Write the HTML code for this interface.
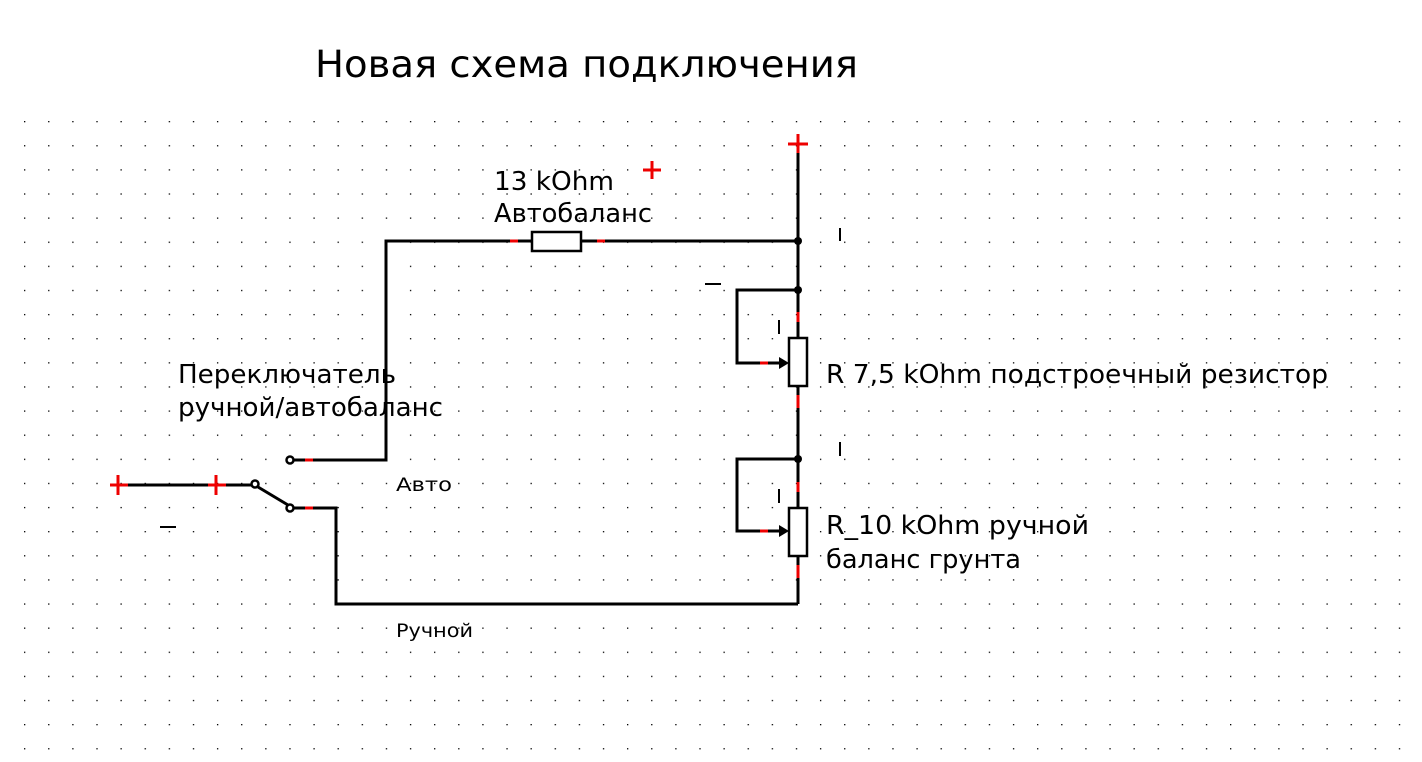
<!DOCTYPE html>
<html><head><meta charset="utf-8"><style>html,body{margin:0;padding:0;background:#fff;}svg{display:block}</style></head>
<body>
<svg width="1422" height="762" xmlns="http://www.w3.org/2000/svg" font-family="'DejaVu Sans','Liberation Sans',sans-serif">
<defs>
<pattern id="g" x="24" y="121" width="24.12" height="24.12" patternUnits="userSpaceOnUse">
<rect x="0" y="0" width="1.3" height="1.3" fill="#000"/>
</pattern>
</defs>
<rect width="1422" height="762" fill="#fff"/>
<rect x="23" y="120" width="1399" height="642" fill="url(#g)"/>
<text x="315" y="77" font-size="37" textLength="543" lengthAdjust="spacingAndGlyphs">Новая схема подключения</text>

<g stroke="#000" stroke-width="3" fill="none">
<line x1="798" y1="144" x2="798" y2="604"/>
<polyline points="290,460 386,460 386,241 532,241"/>
<line x1="581" y1="241" x2="798" y2="241"/>
<polyline points="798,290 737,290 737,363 780,363"/>
<polyline points="798,459 737,459 737,531 780,531"/>
<polyline points="290,508 336,508 336,604 798,604"/>
<line x1="118" y1="485" x2="252" y2="485"/>
<line x1="258" y1="487" x2="288" y2="505"/>
</g>
<g fill="#fff" stroke="#000" stroke-width="2.5">
<rect x="532" y="232" width="49" height="19"/>
<rect x="789" y="338" width="18" height="48"/>
<rect x="789" y="508" width="18" height="48"/>
<circle cx="255" cy="484" r="3.5"/>
<circle cx="290" cy="460" r="3.5"/>
<circle cx="290" cy="508" r="3.5"/>
</g>
<g fill="#000">
<polygon points="789,363 779,357 779,369"/>
<polygon points="789,531 779,525 779,537"/>
<circle cx="798" cy="241" r="4"/>
<circle cx="798" cy="290" r="4"/>
<circle cx="798" cy="459" r="4"/>
</g>
<g stroke="#e00" stroke-width="3">
<line x1="510" y1="241" x2="518" y2="241"/>
<line x1="597" y1="241" x2="605" y2="241"/>
<line x1="798" y1="312" x2="798" y2="322"/>
<line x1="798" y1="395" x2="798" y2="408"/>
<line x1="798" y1="482" x2="798" y2="492"/>
<line x1="798" y1="565" x2="798" y2="578"/>
<line x1="760" y1="363" x2="768" y2="363"/>
<line x1="760" y1="531" x2="768" y2="531"/>
<line x1="305" y1="460" x2="313" y2="460"/>
<line x1="305" y1="508" x2="313" y2="508"/>
</g>
<g stroke-width="3">
<line x1="110" y1="485" x2="128" y2="485" stroke="#e00"/><line x1="118" y1="475" x2="118" y2="495" stroke="#e00"/>
<line x1="208" y1="485" x2="226" y2="485" stroke="#e00"/><line x1="216" y1="475" x2="216" y2="495" stroke="#e00"/>
<line x1="643" y1="170" x2="661" y2="170" stroke="#e00"/><line x1="652" y1="161" x2="652" y2="179" stroke="#e00"/>
<line x1="788" y1="144" x2="808" y2="144" stroke="#e00"/><line x1="798" y1="134" x2="798" y2="153" stroke="#e00"/>
</g>
<g stroke="#000" stroke-width="2">
<line x1="160" y1="527" x2="176" y2="527"/>
<line x1="705" y1="284" x2="721" y2="284"/>
<line x1="840" y1="228" x2="840" y2="241"/>
<line x1="779" y1="320" x2="779" y2="334"/>
<line x1="840" y1="442" x2="840" y2="456"/>
<line x1="779" y1="489" x2="779" y2="503"/>
</g>
<g font-size="26" fill="#000">
<text x="494" y="190" textLength="120" lengthAdjust="spacingAndGlyphs">13 kOhm</text>
<text x="494" y="222" textLength="158" lengthAdjust="spacingAndGlyphs">Автобаланс</text>
<text x="178" y="383" textLength="218" lengthAdjust="spacingAndGlyphs">Переключатель</text>
<text x="178" y="416" textLength="265" lengthAdjust="spacingAndGlyphs">ручной/автобаланс</text>
<text x="826" y="383" textLength="502" lengthAdjust="spacingAndGlyphs">R 7,5 kOhm подстроечный резистор</text>
<text x="826" y="534" textLength="263" lengthAdjust="spacingAndGlyphs">R_10 kOhm ручной</text>
<text x="826" y="568" textLength="195" lengthAdjust="spacingAndGlyphs">баланс грунта</text>
</g>
<g font-size="19" fill="#000">
<text x="396" y="491" textLength="56" lengthAdjust="spacingAndGlyphs">Авто</text>
<text x="396" y="637" textLength="77" lengthAdjust="spacingAndGlyphs">Ручной</text>
</g>
</svg>
</body></html>
